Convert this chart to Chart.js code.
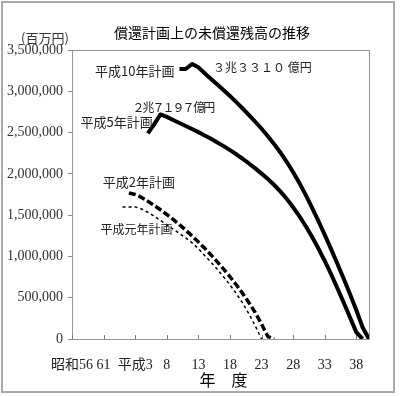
<!DOCTYPE html>
<html>
<head>
<meta charset="utf-8">
<script src="https://cdn.jsdelivr.net/npm/chart.js@4.4.0/dist/chart.umd.min.js"></script>
<style>
  body { margin: 0; background: #fff; }
  canvas { display: block; }
</style>
</head>
<body>
<canvas id="chart" width="400" height="396"></canvas>
<script>
// x = 平成 year (昭和56 = -7)
const tickYears = [-7, -2, 3, 8, 13, 18, 23, 28, 33, 38];
const tickLabels = ['昭和56', '61', '平成3', '8', '13', '18', '23', '28', '33', '38'];
const yTicks = [0, 500000, 1000000, 1500000, 2000000, 2500000, 3000000, 3500000];

const h10Years = [10, 11, 12, 13, 14, 15, 16, 17, 18, 19, 20, 21, 22, 23, 24, 25, 26, 27, 28, 29, 30, 31, 32, 33, 34, 35, 36, 37, 38, 39, 40];
const h10Values = [3270000, 3270000, 3331000, 3290000, 3218000, 3150000, 3082000, 3013000, 2942000, 2868000, 2792000, 2713000, 2631000, 2546000, 2456000, 2360000, 2256000, 2143000, 2020000, 1887000, 1742000, 1588000, 1427000, 1261000, 1089000, 912000, 730000, 542000, 348000, 140000, 0];

const h5Years = [5, 6, 7, 8, 9, 10, 11, 12, 13, 14, 15, 16, 17, 18, 19, 20, 21, 22, 23, 24, 25, 26, 27, 28, 29, 30, 31, 32, 33, 34, 35, 36, 37, 38, 39];
const h5Values = [2490000, 2600000, 2719700, 2690000, 2652000, 2616000, 2580000, 2543000, 2505000, 2465000, 2424000, 2381000, 2336000, 2288000, 2237000, 2183000, 2126000, 2066000, 2003000, 1938000, 1865000, 1785000, 1695000, 1595000, 1485000, 1365000, 1235000, 1095000, 945000, 785000, 615000, 440000, 260000, 80000, 0];

const h2Years = [2, 3, 4, 5, 6, 7, 8, 9, 10, 11, 12, 13, 14, 15, 16, 17, 18, 19, 20, 21, 22, 23, 24, 25];
const h2Values = [1768000, 1750000, 1715000, 1668000, 1618000, 1565000, 1508000, 1448000, 1385000, 1318000, 1248000, 1175000, 1098000, 1018000, 934000, 846000, 754000, 657000, 552000, 440000, 320000, 180000, 30000, 0];

const h1Years = [1, 2, 3, 4, 5, 6, 7, 8, 9, 10, 11, 12, 13, 14, 15, 16, 17, 18, 19, 20, 21, 22, 23];
const h1Values = [1600000, 1600000, 1600000, 1575000, 1535000, 1487000, 1436000, 1384000, 1332000, 1279000, 1224000, 1165000, 1095000, 1010000, 930000, 845000, 752000, 655000, 550000, 435000, 305000, 160000, 0];

function points(years, values) {
    return years.map((yr, i) => ({ x: yr, y: values[i] }));
}

const serif = "'Liberation Serif', 'Noto Sans CJK JP', serif";
const gothic = "'Noto Sans CJK JP', sans-serif";

// frame, inner ticks and text labels
const decorations = {
    id: 'decorations',
    beforeDatasetsDraw(chart) {
        const ctx = chart.ctx;
        const a = chart.chartArea;
        const xs = chart.scales.x;
        ctx.save();
        ctx.strokeStyle = '#999';
        ctx.lineWidth = 1;
        ctx.strokeRect(a.left + 0.5, a.top + 0.5, a.right - a.left, a.bottom - a.top);
        ctx.strokeStyle = '#777';
        ctx.beginPath();
        xs.ticks.forEach(t => {
            const px = Math.round(xs.getPixelForValue(t.value)) + 0.5;
            ctx.moveTo(px, a.bottom);
            ctx.lineTo(px, a.bottom - 4);
        });
        ctx.stroke();
        ctx.restore();
    },
    afterDraw(chart) {
        const ctx = chart.ctx;
        const a = chart.chartArea;
        const xs = chart.scales.x;
        const ys = chart.scales.y;
        ctx.save();

        // outer frame
        ctx.strokeStyle = '#aaa';
        ctx.lineWidth = 2;
        ctx.strokeRect(2, 2, 392, 390);

        ctx.fillStyle = '#000';
        ctx.textBaseline = 'middle';

        ctx.font = '14px ' + gothic;
        ctx.textAlign = 'center';
        ctx.fillText('償還計画上の未償還残高の推移', 212, 33);

        ctx.fillStyle = '#333';
        ctx.font = '13px ' + gothic;
        ctx.textAlign = 'left';
        ctx.fillText('(百万円)', 21, 38);

        ctx.fillStyle = '#000';
        ctx.font = '16px ' + gothic;
        ctx.textAlign = 'center';
        ctx.fillText('年　度', (a.left + a.right) / 2 + 3, 380);

        // series notes, placed from their data points
        const px = (yr) => xs.getPixelForValue(yr);
        const py = (v) => ys.getPixelForValue(v);

        ctx.fillStyle = '#222';
        ctx.font = '13px ' + gothic;
        ctx.textAlign = 'right';
        ctx.fillText('平成10年計画', px(h10Years[0]) - 5, py(h10Values[0]) + 2);
        ctx.fillText('平成5年計画', px(h5Years[0]) + 5, py(h5Values[0]) - 11);
        ctx.textAlign = 'left';
        ctx.fillText('平成2年計画', px(h2Years[0]) - 26, py(h2Values[0]) - 11);
        ctx.font = '12px ' + gothic;
        ctx.fillText('平成元年計画', px(h1Years[0]) - 22, py(h1Values[0]) + 23);

        ctx.font = '12px ' + gothic;
        ctx.fillText('３兆３３１０ 億円', px(12) + 21, py(3331000) + 3);
        ctx.letterSpacing = '-2px';
        ctx.fillText('２兆７１９７ 億円', px(7) - 28, py(2719700) - 7);
        ctx.restore();
    }
};

new Chart(document.getElementById('chart'), {
    type: 'line',
    data: {
        datasets: [
            { label: '平成10年計画', data: points(h10Years, h10Values), borderColor: '#000', borderWidth: 4 },
            { label: '平成5年計画', data: points(h5Years, h5Values), borderColor: '#000', borderWidth: 4 },
            { label: '平成2年計画', data: points(h2Years, h2Values), borderColor: '#000', borderWidth: 3.5, borderDash: [7, 3] },
            { label: '平成元年計画', data: points(h1Years, h1Values), borderColor: '#000', borderWidth: 1.5, borderDash: [3, 3] }
        ]
    },
    options: {
        responsive: false,
        devicePixelRatio: 1,
        animation: false,
        layout: { padding: { top: 50, right: 31, left: 0, bottom: 0 } },
        elements: {
            point: { radius: 0 },
            line: { tension: 0, fill: false, borderCapStyle: 'butt', borderJoinStyle: 'round' }
        },
        plugins: {
            legend: { display: false },
            tooltip: { enabled: false },
            title: { display: false }
        },
        scales: {
            x: {
                type: 'linear',
                min: -7,
                max: 40,
                afterFit(scale) { scale.height = 57; },
                afterBuildTicks(scale) {
                    scale.ticks = tickYears.map(v => ({ value: v }));
                },
                grid: { display: false },
                border: { display: true, color: '#555', width: 1 },
                ticks: {
                    autoSkip: false,
                    maxRotation: 0,
                    padding: 10,
                    color: '#222',
                    font: { family: serif, size: 14 },
                    callback: function (value) {
                        const i = tickYears.indexOf(value);
                        return i >= 0 ? tickLabels[i] : '';
                    }
                }
            },
            y: {
                min: 0,
                max: 3500000,
                afterFit(scale) { scale.width = 72; },
                afterBuildTicks(scale) {
                    scale.ticks = yTicks.map(v => ({ value: v }));
                },
                grid: { display: true, drawOnChartArea: false, drawTicks: true, tickLength: 4, color: '#888' },
                border: { display: true, color: '#666', width: 1 },
                ticks: {
                    padding: 5,
                    color: '#333',
                    font: { family: serif, size: 14 },
                    callback: function (value) {
                        return value.toLocaleString('en-US');
                    }
                }
            }
        }
    },
    plugins: [decorations]
});
</script>
</body>
</html>
